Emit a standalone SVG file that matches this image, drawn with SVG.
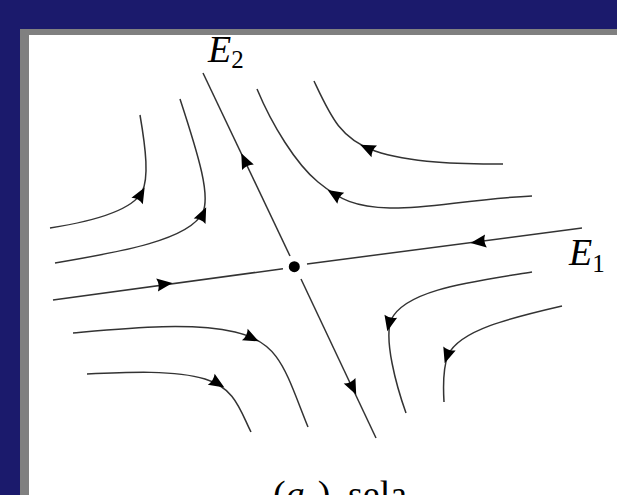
<svg xmlns="http://www.w3.org/2000/svg" xmlns:xlink="http://www.w3.org/1999/xlink" width="617" height="495" viewBox="0 0 617 495">
<defs>
<style>
.bg{fill:#1b1a6c}
.frame{fill:#808080}
.panel{fill:#ffffff}
.flow{fill:none;stroke:#333333;stroke-width:1.5;stroke-linecap:butt}
.head{fill:#000000}
.lbl{font-family:"Liberation Serif","Times New Roman",serif;fill:#000000}
.it{font-style:italic}
</style>
<path id="ah" d="M7.5,0 L-8,-6.5 Q-5,0 -8,6.5 Z"/>
</defs>
<rect class="bg" x="0" y="0" width="617" height="495"/>
<rect class="frame" x="20" y="29" width="620" height="490"/>
<rect class="panel" x="29" y="35" width="610" height="480"/>

<g id="connectors">
  <g id="E1-axis">
    <path class="flow" d="M53,300 L283,268.7"/>
    <path class="flow" d="M307,264 L582,228"/>
    <use class="head" xlink:href="#ah" href="#ah" transform="translate(165,284) rotate(-7.6)"/>
    <use class="head" xlink:href="#ah" href="#ah" transform="translate(478,242) rotate(172.4)"/>
  </g>
  <g id="E2-axis">
    <path class="flow" d="M203,73 L290,256"/>
    <path class="flow" d="M301,279 L376,438"/>
    <use class="head" xlink:href="#ah" href="#ah" transform="translate(244.5,160) rotate(-115.4)"/>
    <use class="head" xlink:href="#ah" href="#ah" transform="translate(353,388) rotate(64.6)"/>
  </g>
  <g id="orbit-A">
    <path class="flow" d="M50,228 C95,221 132,210 142,192 C149,178 146,150 140,115"/>
    <use class="head" xlink:href="#ah" href="#ah" transform="translate(141,194) rotate(-61)"/>
  </g>
  <g id="orbit-B">
    <path class="flow" d="M55,263 C120,252 190,240 203,212 C210,195 200,160 180,99"/>
    <use class="head" xlink:href="#ah" href="#ah" transform="translate(203,214) rotate(-65)"/>
  </g>
  <g id="orbit-C">
    <path class="flow" d="M532,196 C470,199 425,209 390,208 S340,200 318,182 S272,125 257,89"/>
    <use class="head" xlink:href="#ah" href="#ah" transform="translate(334,194) rotate(-148)"/>
  </g>
  <g id="orbit-D">
    <path class="flow" d="M503,164 C460,164 410,163 375,151 S330,115 314,81"/>
    <use class="head" xlink:href="#ah" href="#ah" transform="translate(367,148) rotate(-155)"/>
  </g>
  <g id="orbit-E">
    <path class="flow" d="M73,333 C130,328 190,322 235,332 S285,370 308,427"/>
    <use class="head" xlink:href="#ah" href="#ah" transform="translate(252,338) rotate(26)"/>
  </g>
  <g id="orbit-F">
    <path class="flow" d="M87,374 C130,372 175,370 205,379 S240,410 251,432"/>
    <use class="head" xlink:href="#ah" href="#ah" transform="translate(218,383.5) rotate(32)"/>
  </g>
  <g id="orbit-G">
    <path class="flow" d="M532,272 C470,282 405,290 391,320 C384,340 396,385 406,413"/>
    <use class="head" xlink:href="#ah" href="#ah" transform="translate(389,324) rotate(103)"/>
  </g>
  <g id="orbit-H">
    <path class="flow" d="M562,306 C510,318 460,330 448,355 C443,368 443,385 444,402"/>
    <use class="head" xlink:href="#ah" href="#ah" transform="translate(447,356) rotate(108)"/>
  </g>
</g>

<g id="saddle-point">
  <circle cx="294.3" cy="266.7" r="5.5" fill="#000000"/>
</g>

<g id="label-E2">
  <text class="lbl" x="208" y="62" font-size="38"><tspan class="it">E</tspan><tspan font-size="25" dy="6">2</tspan></text>
</g>
<g id="label-E1">
  <text class="lbl" x="569" y="265" font-size="38"><tspan class="it">E</tspan><tspan font-size="25" dy="7">1</tspan></text>
</g>
<g id="caption">
  <text class="lbl" x="273" y="507" font-size="38">(<tspan class="it">a</tspan><tspan font-size="26" dy="6">3</tspan><tspan dy="-6">)</tspan><tspan x="348">sela</tspan></text>
</g>
</svg>
